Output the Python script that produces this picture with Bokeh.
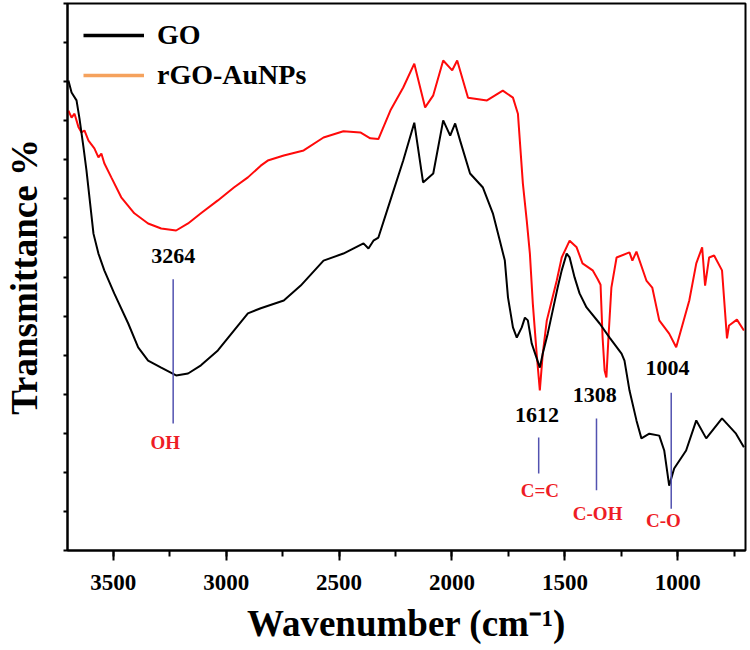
from bokeh.plotting import figure
from bokeh.models import Range1d, SingleIntervalTicker, Legend, LegendItem, CustomJSTickFormatter
from bokeh.core.properties import value
from bokeh.embed import file_html
from bokeh.resources import INLINE

# ---- data ----
go_wn = [3699, 3685, 3663, 3650, 3632, 3619, 3588, 3566, 3540, 3496, 3434, 3390, 3346, 3288,
         3222, 3169, 3112, 3037, 2966, 2904, 2847, 2745, 2670, 2569, 2481, 2392, 2370, 2348,
         2326, 2273, 2216, 2167, 2128, 2083, 2039, 2008, 1986, 1964, 1920, 1863, 1819, 1788,
         1766, 1752, 1730, 1713, 1691, 1677, 1664, 1647, 1611, 1598, 1576, 1554, 1532, 1514,
         1492, 1479, 1457, 1435, 1404, 1346, 1302, 1249,
         1236, 1214, 1183, 1161, 1126, 1082, 1060, 1038, 1016, 963, 918, 874, 804, 742, 707]
go_t = [12.03, 11.72, 11.52, 11.06, 10.31, 9.73, 8.11, 7.60, 7.17, 6.58, 5.81, 5.20, 4.86, 4.68,
        4.48, 4.53, 4.74, 5.12, 5.63, 6.07, 6.20, 6.40, 6.78, 7.42, 7.60, 7.86, 7.73, 7.93,
        8.01, 8.96, 9.98, 10.95, 9.42, 9.65, 11.01, 10.62, 10.93, 10.49, 9.65, 9.29, 8.63, 7.93,
        7.42, 6.48, 5.71, 5.45, 5.71, 5.96, 5.89, 5.30, 4.68, 5.04, 5.55, 6.14, 6.73, 7.17,
        7.60, 7.50, 6.99, 6.58, 6.22, 5.81, 5.45, 5.04,
        4.86, 4.10, 3.33, 2.87, 2.99, 2.94, 2.56, 1.66, 2.10, 2.56, 3.33, 2.87, 3.38, 2.99, 2.64]

rgo_wn = [3699, 3685, 3672, 3654, 3641, 3628, 3610, 3584, 3566, 3553, 3540, 3509, 3465, 3407,
          3346, 3288, 3222, 3169, 3112, 3037, 2966, 2904, 2847, 2816, 2745, 2657, 2569, 2481,
          2406, 2362, 2326, 2273, 2216, 2167, 2119, 2083, 2039, 1999, 1977, 1929, 1845, 1775,
          1730, 1708, 1686, 1669, 1655, 1642, 1625, 1611, 1598, 1580, 1558, 1536, 1514, 1479,
          1448, 1422, 1377, 1355, 1342, 1333, 1324, 1316, 1307,
          1294, 1271, 1214, 1201, 1183, 1139, 1113, 1082, 1038, 1007, 949, 918, 892, 879, 861,
          839, 804, 782, 773, 738, 707]
rgo_t = [11.26, 11.08, 11.18, 10.83, 10.70, 10.75, 10.49, 10.29, 10.06, 10.16, 9.91, 9.55, 9.04, 8.63,
         8.37, 8.24, 8.19, 8.37, 8.63, 8.96, 9.29, 9.55, 9.85, 9.98, 10.11, 10.24, 10.57, 10.73,
         10.70, 10.55, 10.53, 11.26, 11.85, 12.46, 11.34, 11.65, 12.54, 12.29, 12.54, 11.59, 11.52, 11.77,
         11.59, 11.18, 9.39, 8.45, 7.60, 6.32, 5.04, 4.10, 5.04, 5.89, 6.40, 6.91, 7.50, 7.93,
         7.76, 7.35, 7.17, 6.95, 6.80, 5.45, 4.61, 4.43, 5.45,
         6.73, 7.50, 7.63, 7.42, 7.65, 6.91, 6.73, 5.89, 5.55, 5.20, 6.40, 7.35, 7.76, 6.78, 7.50,
         7.55, 7.17, 5.43, 5.76, 5.91, 5.63]

peak_labels = ["3264", "1612", "1308", "1004"]
peak_label_x = [3235, 1624, 1368, 1046]
peak_label_y = [7.55, 3.46, 3.99, 4.66]
marker_x = [3235, 1616, 1360, 1029]
marker_top = [6.94, 2.89, 3.38, 4.04]
marker_bottom = [3.25, 1.97, 1.54, 1.07]
group_labels = ["OH", "C=C", "C-OH", "C-O"]
group_x = [3270, 1611, 1355, 1064]
group_y = [2.76, 1.54, 0.95, 0.77]

FONT = "Liberation Serif"
NAN = float("nan")

p = figure(width=748, height=648, x_range=Range1d(3703, 700), y_range=Range1d(0, 14),
           output_backend="svg", toolbar_location=None,
           min_border_left=66, min_border_right=3, min_border_top=3, min_border_bottom=98)
p.xgrid.visible = False
p.ygrid.visible = False
p.outline_line_color = "black"
p.outline_line_width = 2
p.outline_line_alpha = 1

# x axis
p.xaxis.ticker = SingleIntervalTicker(interval=500, num_minor_ticks=2)
p.xaxis.axis_line_width = 2
p.xaxis.major_tick_in = 0
p.xaxis.major_tick_out = 10
p.xaxis.minor_tick_in = 0
p.xaxis.minor_tick_out = 6
p.xaxis.major_tick_line_width = 2
p.xaxis.minor_tick_line_width = 2
p.xaxis.major_label_text_font = FONT
p.xaxis.major_label_text_font_style = "bold"
p.xaxis.major_label_text_font_size = "23px"
p.xaxis.major_label_text_color = "black"
p.xaxis.major_label_standoff = 14
p.xaxis.axis_label = "Wavenumber (cm\u207b\u00b9)"
p.xaxis.axis_label_text_font = FONT
p.xaxis.axis_label_text_font_style = "bold"
p.xaxis.axis_label_text_font_size = "37px"
p.xaxis.axis_label_text_color = "black"
p.xaxis.axis_label_standoff = 10

# y axis (no numbers)
p.yaxis.ticker = SingleIntervalTicker(interval=1, num_minor_ticks=0)
p.yaxis.formatter = CustomJSTickFormatter(code="return ''")
p.yaxis.axis_line_width = 2
p.yaxis.major_tick_in = 0
p.yaxis.major_tick_out = 4
p.yaxis.major_tick_line_width = 2
p.yaxis.minor_tick_line_color = None
p.yaxis.major_label_standoff = 0
p.yaxis.axis_label = "Transmittance %"
p.yaxis.axis_label_text_font = FONT
p.yaxis.axis_label_text_font_style = "bold"
p.yaxis.axis_label_text_font_size = "37px"
p.yaxis.axis_label_text_color = "black"
p.yaxis.axis_label_standoff = 19

# curves
r_rgo = p.line(rgo_wn, rgo_t, line_color="#ff0a0a", line_width=2)
r_go = p.line(go_wn, go_t, line_color="black", line_width=2)
r_leg_go = p.line(x=[NAN], y=[NAN], line_color="black", line_width=3.5)
r_leg = p.line(x=[NAN], y=[NAN], line_color="#f5a25d", line_width=3.5)

# annotation markers
p.segment(x0=marker_x, y0=marker_bottom, x1=marker_x, y1=marker_top,
          line_color="#5252b0", line_width=1.5)
p.text(x=peak_label_x, y=peak_label_y, text=peak_labels, text_font=value(FONT),
       text_font_style="bold", text_font_size="22px", text_color="black",
       text_align="center", text_baseline="middle")
p.text(x=group_x, y=group_y, text=group_labels, text_font=value(FONT),
       text_font_style="bold", text_font_size="19px", text_color="#ee1c25",
       text_align="center", text_baseline="middle")

legend = Legend(items=[LegendItem(label="GO", renderers=[r_leg_go]),
                       LegendItem(label="rGO-AuNPs", renderers=[r_leg])],
                location="top_left", margin=6, padding=10, spacing=8,
                glyph_width=61, glyph_height=20, label_standoff=13,
                label_text_font=FONT, label_text_font_style="bold",
                label_text_font_size="28px", label_text_color="black",
                border_line_alpha=0, background_fill_alpha=0)
p.add_layout(legend)

open("out.html", "w").write(file_html(p, INLINE))
